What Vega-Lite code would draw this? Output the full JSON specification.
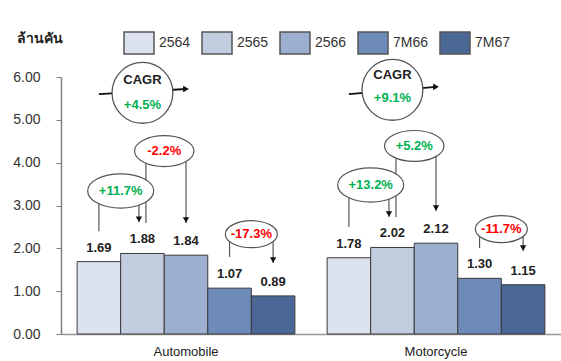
{
  "$schema": "https://vega.github.io/schema/vega-lite/v6.json",
  "width": 500,
  "height": 257,
  "autosize": {"type": "none"},
  "padding": {"left": 61, "top": 77, "right": 0, "bottom": 27},
  "config": {"view": {"stroke": null}, "font": "Liberation Sans", "axis": {"grid": false}},
  "resolve": {"scale": {"xOffset": "independent"}},
  "datasets": {
    "bars": [
      {"group": "Automobile", "year": "2564", "value": 1.69},
      {"group": "Automobile", "year": "2565", "value": 1.88},
      {"group": "Automobile", "year": "2566", "value": 1.84},
      {"group": "Automobile", "year": "7M66", "value": 1.07},
      {"group": "Automobile", "year": "7M67", "value": 0.89},
      {"group": "Motorcycle", "year": "2564", "value": 1.78},
      {"group": "Motorcycle", "year": "2565", "value": 2.02},
      {"group": "Motorcycle", "year": "2566", "value": 2.12},
      {"group": "Motorcycle", "year": "7M66", "value": 1.30},
      {"group": "Motorcycle", "year": "7M67", "value": 1.15}
    ],
    "ellipses": [
      {"group": "Automobile", "from": "2564", "label": "+11.7%", "sign": "pos", "seg": "a", "y": 3.34},
      {"group": "Automobile", "from": "2565", "label": "-2.2%", "sign": "neg", "seg": "b", "y": 4.27},
      {"group": "Automobile", "from": "7M66", "label": "-17.3%", "sign": "neg", "seg": "c", "y": 2.33},
      {"group": "Motorcycle", "from": "2564", "label": "+13.2%", "sign": "pos", "seg": "a", "y": 3.48},
      {"group": "Motorcycle", "from": "2565", "label": "+5.2%", "sign": "pos", "seg": "b", "y": 4.39},
      {"group": "Motorcycle", "from": "7M66", "label": "-11.7%", "sign": "neg", "seg": "c", "y": 2.45}
    ],
    "stems": [
      {"group": "Automobile", "year": "2564", "top": 3.34, "bottom": 2.40, "kind": "c", "arrow": false},
      {"group": "Automobile", "year": "2565", "top": 3.34, "bottom": 2.61, "kind": "l", "arrow": true},
      {"group": "Automobile", "year": "2565", "top": 4.27, "bottom": 2.59, "kind": "r", "arrow": false},
      {"group": "Automobile", "year": "2566", "top": 4.27, "bottom": 2.59, "kind": "c", "arrow": true},
      {"group": "Automobile", "year": "7M66", "top": 2.33, "bottom": 1.80, "kind": "c", "arrow": false},
      {"group": "Automobile", "year": "7M67", "top": 2.33, "bottom": 1.66, "kind": "c", "arrow": true},
      {"group": "Motorcycle", "year": "2564", "top": 3.48, "bottom": 2.50, "kind": "c", "arrow": false},
      {"group": "Motorcycle", "year": "2565", "top": 3.48, "bottom": 2.73, "kind": "l", "arrow": true},
      {"group": "Motorcycle", "year": "2565", "top": 4.39, "bottom": 2.73, "kind": "r", "arrow": false},
      {"group": "Motorcycle", "year": "2566", "top": 4.39, "bottom": 2.87, "kind": "c", "arrow": true},
      {"group": "Motorcycle", "year": "7M66", "top": 2.45, "bottom": 2.01, "kind": "c", "arrow": false},
      {"group": "Motorcycle", "year": "7M67", "top": 2.45, "bottom": 1.94, "kind": "c", "arrow": true}
    ],
    "cagr": [
      {"group": "Automobile", "year": "2565", "c": 5.63, "t": 5.93, "v": 5.35, "label": "+4.5%"},
      {"group": "Motorcycle", "year": "2565", "c": 5.70, "t": 6.05, "v": 5.51, "label": "+9.1%"}
    ],
    "cagrline": [
      {"group": "Automobile", "year": "2564", "y": 5.60, "end": false},
      {"group": "Automobile", "year": "2566", "y": 5.72, "end": true},
      {"group": "Motorcycle", "year": "2564", "y": 5.60, "end": false},
      {"group": "Motorcycle", "year": "2566", "y": 5.77, "end": true}
    ]
  },
  "layer": [
    {
      "data": {"name": "bars"},
      "mark": {"type": "bar", "stroke": "#3a3a3a", "strokeWidth": 1},
      "encoding": {
        "x": {"field": "group", "type": "nominal", "title": null, "scale": {"type": "band", "paddingInner": 0, "paddingOuter": 0},
              "axis": {"title": null, "domainColor": "#999999", "domainWidth": 1.5, "ticks": false, "labelFontSize": 13, "labelColor": "#222222", "labelPadding": 11, "labelAngle": 0}},
        "xOffset": {"field": "year", "type": "nominal", "scale": {"type": "band", "domain": ["2564", "2565", "2566", "7M66", "7M67"], "paddingInner": 0, "paddingOuter": 0.37}},
        "y": {"field": "value", "type": "quantitative", "title": "ล้านคัน", "scale": {"domain": [0, 6], "nice": false},
              "axis": {"values": [0, 1, 2, 3, 4, 5, 6], "format": ".2f", "tickSize": 5, "tickColor": "#808080", "domainColor": "#808080", "domainWidth": 1.5, "labelFontSize": 14, "labelColor": "#333333", "labelPadding": 16,
                       "title": "ล้านคัน", "titleAngle": 0, "titleAlign": "left", "titleBaseline": "middle", "titleX": -45, "titleY": -39, "titleFontSize": 14, "titleFontWeight": "bold", "titleColor": "#222222"}},
        "fill": {"field": "year", "type": "nominal",
                 "scale": {"domain": ["2564", "2565", "2566", "7M66", "7M67"], "range": ["#DDE3EE", "#C3CDE0", "#9CAFCE", "#6D8AB8", "#4B6795"]},
                 "legend": {"orient": "none", "legendX": 62, "legendY": -50, "direction": "horizontal", "columns": 5, "title": null,
                            "symbolType": "M-1,-0.733H1V0.733H-1Z", "symbolSize": 900, "symbolStrokeColor": "#555555", "symbolStrokeWidth": 1.5,
                            "labelFontSize": 14, "labelColor": "#333333", "labelOffset": 4, "columnPadding": 8}}
      }
    },
    {
      "data": {"name": "bars"},
      "mark": {"type": "text", "fontSize": 13, "fontWeight": "bold", "baseline": "middle", "dy": -14, "color": "#222222"},
      "encoding": {
        "x": {"field": "group", "type": "nominal", "title": null},
        "xOffset": {"field": "year", "type": "nominal", "scale": {"type": "band", "domain": ["2564", "2565", "2566", "7M66", "7M67"], "paddingInner": 0, "paddingOuter": 0.37}},
        "y": {"field": "value", "type": "quantitative", "title": "ล้านคัน"},
        "text": {"field": "value", "type": "quantitative", "format": ".2f"}
      }
    },
    {
      "data": {"name": "cagrline"},
      "mark": {"type": "line", "color": "#111111", "strokeWidth": 1.8},
      "encoding": {
        "x": {"field": "group", "type": "nominal", "title": null},
        "xOffset": {"field": "year", "type": "nominal", "scale": {"type": "band", "domain": ["2564", "2565", "2566", "7M66", "7M67"], "paddingInner": 0, "paddingOuter": 0.37}},
        "y": {"field": "y", "type": "quantitative", "title": "ล้านคัน"},
        "detail": {"field": "group"}
      }
    },
    {
      "data": {"name": "cagrline"},
      "transform": [{"filter": "datum.end"}],
      "mark": {"type": "point", "shape": "triangle-right", "size": 45, "filled": true, "color": "#111111", "opacity": 1},
      "encoding": {
        "x": {"field": "group", "type": "nominal", "title": null},
        "xOffset": {"field": "year", "type": "nominal", "scale": {"type": "band", "domain": ["2564", "2565", "2566", "7M66", "7M67"], "paddingInner": 0, "paddingOuter": 0.37}},
        "y": {"field": "y", "type": "quantitative", "title": "ล้านคัน"}
      }
    },
    {
      "data": {"name": "cagr"},
      "mark": {"type": "point", "shape": "circle", "size": 3700, "filled": true, "fill": "#ffffff", "stroke": "#555555", "strokeWidth": 1.3, "opacity": 1},
      "encoding": {
        "x": {"field": "group", "type": "nominal", "title": null},
        "xOffset": {"field": "year", "type": "nominal", "scale": {"type": "band", "domain": ["2564", "2565", "2566", "7M66", "7M67"], "paddingInner": 0, "paddingOuter": 0.37}},
        "y": {"field": "c", "type": "quantitative", "title": "ล้านคัน"}
      }
    },
    {
      "data": {"name": "cagr"},
      "mark": {"type": "text", "fontSize": 13, "fontWeight": "bold", "baseline": "middle", "color": "#222222"},
      "encoding": {
        "x": {"field": "group", "type": "nominal", "title": null},
        "xOffset": {"field": "year", "type": "nominal", "scale": {"type": "band", "domain": ["2564", "2565", "2566", "7M66", "7M67"], "paddingInner": 0, "paddingOuter": 0.37}},
        "y": {"field": "t", "type": "quantitative", "title": "ล้านคัน"},
        "text": {"value": "CAGR"}
      }
    },
    {
      "data": {"name": "cagr"},
      "mark": {"type": "text", "fontSize": 13, "fontWeight": "bold", "baseline": "middle", "color": "#00B050"},
      "encoding": {
        "x": {"field": "group", "type": "nominal", "title": null},
        "xOffset": {"field": "year", "type": "nominal", "scale": {"type": "band", "domain": ["2564", "2565", "2566", "7M66", "7M67"], "paddingInner": 0, "paddingOuter": 0.37}},
        "y": {"field": "v", "type": "quantitative", "title": "ล้านคัน"},
        "text": {"field": "label"}
      }
    },
    {
      "data": {"name": "stems"},
      "transform": [{"filter": "datum.kind == 'c'"}],
      "mark": {"type": "rule", "color": "#555555", "strokeWidth": 1.2},
      "encoding": {
        "x": {"field": "group", "type": "nominal", "title": null},
        "xOffset": {"field": "year", "type": "nominal", "scale": {"type": "band", "domain": ["2564", "2565", "2566", "7M66", "7M67"], "paddingInner": 0, "paddingOuter": 0.37}},
        "y": {"field": "top", "type": "quantitative", "title": "ล้านคัน"},
        "y2": {"field": "bottom"}
      }
    },
    {
      "data": {"name": "stems"},
      "transform": [{"filter": "datum.kind == 'l'"}],
      "mark": {"type": "rule", "color": "#555555", "strokeWidth": 1.2},
      "encoding": {
        "x": {"field": "group", "type": "nominal", "title": null},
        "xOffset": {"field": "year", "type": "nominal", "scale": {"type": "band", "domain": ["2564", "2565", "2566", "7M66", "7M67"], "paddingInner": 0, "paddingOuter": 0.37, "range": [-3.5, 246.5]}},
        "y": {"field": "top", "type": "quantitative", "title": "ล้านคัน"},
        "y2": {"field": "bottom"}
      }
    },
    {
      "data": {"name": "stems"},
      "transform": [{"filter": "datum.kind == 'r'"}],
      "mark": {"type": "rule", "color": "#555555", "strokeWidth": 1.2},
      "encoding": {
        "x": {"field": "group", "type": "nominal", "title": null},
        "xOffset": {"field": "year", "type": "nominal", "scale": {"type": "band", "domain": ["2564", "2565", "2566", "7M66", "7M67"], "paddingInner": 0, "paddingOuter": 0.37, "range": [3.5, 253.5]}},
        "y": {"field": "top", "type": "quantitative", "title": "ล้านคัน"},
        "y2": {"field": "bottom"}
      }
    },
    {
      "data": {"name": "stems"},
      "transform": [{"filter": "datum.arrow && datum.kind == 'c'"}],
      "mark": {"type": "point", "shape": "triangle-down", "size": 40, "filled": true, "color": "#111111", "opacity": 1, "yOffset": -3},
      "encoding": {
        "x": {"field": "group", "type": "nominal", "title": null},
        "xOffset": {"field": "year", "type": "nominal", "scale": {"type": "band", "domain": ["2564", "2565", "2566", "7M66", "7M67"], "paddingInner": 0, "paddingOuter": 0.37}},
        "y": {"field": "bottom", "type": "quantitative", "title": "ล้านคัน"}
      }
    },
    {
      "data": {"name": "stems"},
      "transform": [{"filter": "datum.arrow && datum.kind == 'l'"}],
      "mark": {"type": "point", "shape": "triangle-down", "size": 40, "filled": true, "color": "#111111", "opacity": 1, "yOffset": -3},
      "encoding": {
        "x": {"field": "group", "type": "nominal", "title": null},
        "xOffset": {"field": "year", "type": "nominal", "scale": {"type": "band", "domain": ["2564", "2565", "2566", "7M66", "7M67"], "paddingInner": 0, "paddingOuter": 0.37, "range": [-3.5, 246.5]}},
        "y": {"field": "bottom", "type": "quantitative", "title": "ล้านคัน"}
      }
    },
    {
      "data": {"name": "ellipses"},
      "mark": {"type": "point", "shape": "M-1,0A1,0.52,0,1,0,1,0A1,0.52,0,1,0,-1,0Z", "filled": true, "fill": "#ffffff", "stroke": "#555555", "strokeWidth": 1.2, "opacity": 1},
      "encoding": {
        "x": {"field": "group", "type": "nominal", "title": null},
        "xOffset": {"field": "from", "type": "nominal", "scale": {"type": "band", "domain": ["2564", "2565", "2566", "7M66", "7M67"], "paddingInner": 0, "paddingOuter": 0.37, "range": [21.8, 271.8]}},
        "y": {"field": "y", "type": "quantitative", "title": "ล้านคัน"},
        "size": {"field": "seg", "type": "nominal", "scale": {"domain": ["a", "b", "c"], "range": [4356, 2704, 3025]}, "legend": null}
      }
    },
    {
      "data": {"name": "ellipses"},
      "mark": {"type": "text", "fontSize": 13, "fontWeight": "bold", "baseline": "middle"},
      "encoding": {
        "x": {"field": "group", "type": "nominal", "title": null},
        "xOffset": {"field": "from", "type": "nominal", "scale": {"type": "band", "domain": ["2564", "2565", "2566", "7M66", "7M67"], "paddingInner": 0, "paddingOuter": 0.37, "range": [21.8, 271.8]}},
        "y": {"field": "y", "type": "quantitative", "title": "ล้านคัน"},
        "text": {"field": "label"},
        "color": {"field": "sign", "type": "nominal", "scale": {"domain": ["pos", "neg"], "range": ["#00B050", "#FF0000"]}, "legend": null}
      }
    }
  ]
}
